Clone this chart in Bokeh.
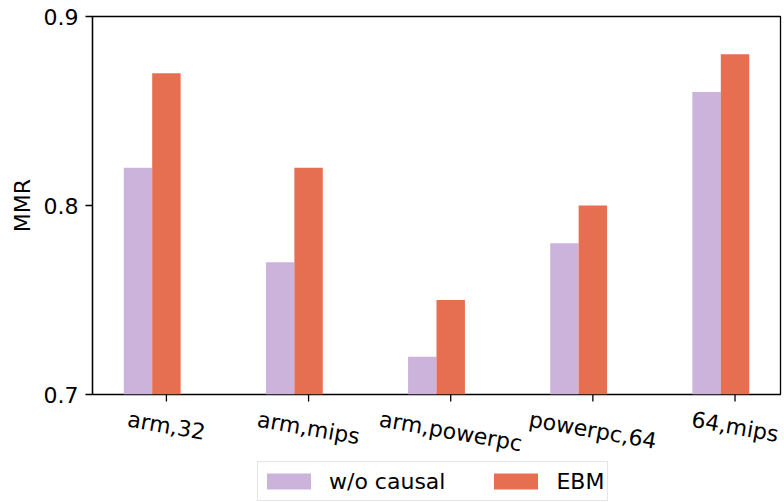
import math
from bokeh.plotting import figure
from bokeh.layouts import column
from bokeh.models import ColumnDataSource, Legend, LegendItem, FixedTicker, Range1d
from bokeh.embed import file_html
from bokeh.resources import INLINE

categories = ["arm,32", "arm,mips", "arm,powerpc", "powerpc,64", "64,mips"]
wo_causal = [0.82, 0.77, 0.72, 0.78, 0.86]
ebm = [0.87, 0.82, 0.75, 0.80, 0.88]
y_ticks = [0.7, 0.8, 0.9]

FONT = "DejaVu Sans"
PURPLE = "#cbb3db"
ORANGE = "#e76f51"
ROT = 10 * math.pi / 180

xs = list(range(len(categories)))
bar_w = 0.2
src = ColumnDataSource(dict(
    x_wo=[x - bar_w for x in xs],
    x_ebm=xs,
    wo=wo_causal,
    ebm=ebm,
))

# ---------------- main chart ----------------
OVERLAP = 18
x_range = Range1d(-0.52, 4.32)
p = figure(width=784, height=394 + OVERLAP, output_backend="svg", toolbar_location=None,
           x_range=x_range, y_range=Range1d(0.7, 0.9),
           x_axis_location=None,
           min_border_left=92, min_border_right=4, min_border_top=16,
           min_border_bottom=OVERLAP)
p.background_fill_color = "white"
p.border_fill_color = "white"
p.grid.visible = False
p.outline_line_color = "black"
p.outline_line_width = 1.3

p.vbar(x="x_wo", top="wo", bottom=0.7, width=bar_w, source=src,
       fill_color=PURPLE, line_color=None)
p.vbar(x="x_ebm", top="ebm", bottom=0.7, width=bar_w, source=src,
       fill_color=ORANGE, line_color=None)

ya = p.yaxis[0]
ya.ticker = FixedTicker(ticks=y_ticks)
ya.major_label_overrides = {t: f"{t:.1f}" for t in y_ticks}
ya.axis_label = "MMR"
ya.major_tick_out = 7
ya.major_tick_in = 0
ya.minor_tick_out = 0
ya.minor_tick_in = 0
ya.axis_line_color = "black"
ya.axis_line_width = 1.3
ya.major_tick_line_width = 1.3
ya.major_tick_line_color = "black"
ya.major_label_text_font = FONT
ya.major_label_text_font_size = "22px"
ya.major_label_text_color = "black"
ya.major_label_standoff = 7
ya.axis_label_text_font = FONT
ya.axis_label_text_font_size = "22px"
ya.axis_label_text_font_style = "normal"
ya.axis_label_text_color = "black"
ya.axis_label_standoff = 6

# ---------------- x ticks, tick labels + legend strip ----------------
strip_h = 108
q = figure(width=784, height=strip_h, output_backend="svg", toolbar_location=None,
           x_range=x_range, y_range=Range1d(0, strip_h),
           x_axis_location=None, y_axis_location=None,
           min_border_left=92, min_border_right=4, min_border_top=0, min_border_bottom=0,
           margin=(-OVERLAP, 0, 0, 0))
q.grid.visible = False
q.outline_line_color = None
q.background_fill_alpha = 0
q.border_fill_alpha = 0

# tick marks below the frame
tick_src = ColumnDataSource(dict(x=xs, y0=[strip_h] * len(xs), y1=[strip_h - 7] * len(xs)))
q.segment(x0="x", x1="x", y0="y0", y1="y1", source=tick_src,
          line_color="black", line_width=1.3)

# rotated labels, centred on the tick
label_top = 12
label_y = [strip_h - label_top - (len(c) * 13 * math.sin(ROT) + 25.3 * math.cos(ROT)) / 2
           for c in categories]
lab_src = ColumnDataSource(dict(x=xs, y=label_y, text=categories))
q.text(x="x", y="y", text="text", source=lab_src, angle=-ROT,
       text_align="center", text_baseline="middle",
       text_font={"value": FONT}, text_font_size={"value": "22px"}, text_color="black")

dummy = ColumnDataSource(dict(x=[0], top=[0], bottom=[0]))
d1 = q.vbar(x="x", top="top", bottom="bottom", width=0.2, source=dummy,
            fill_color=PURPLE, line_color=None)
d2 = q.vbar(x="x", top="top", bottom="bottom", width=0.2, source=dummy,
            fill_color=ORANGE, line_color=None)

legend = Legend(items=[LegendItem(label="w/o causal", renderers=[d1]),
                       LegendItem(label="EBM", renderers=[d2])],
                location=(165, 1), orientation="horizontal")
legend.label_text_font = FONT
legend.label_text_font_size = "22px"
legend.label_text_color = "black"
legend.glyph_width = 55
legend.glyph_height = 20
legend.label_height = 32
legend.label_standoff = 13
legend.spacing = 43
legend.padding = 3
legend.margin = 0
legend.border_line_color = "#cccccc"
legend.border_line_width = 1.3
legend.background_fill_color = "white"
legend.background_fill_alpha = 1.0
legend.inactive_fill_alpha = 0.0
q.add_layout(legend, "center")

layout = column(p, q, spacing=0)
open("out.html", "w").write(file_html(layout, INLINE))
